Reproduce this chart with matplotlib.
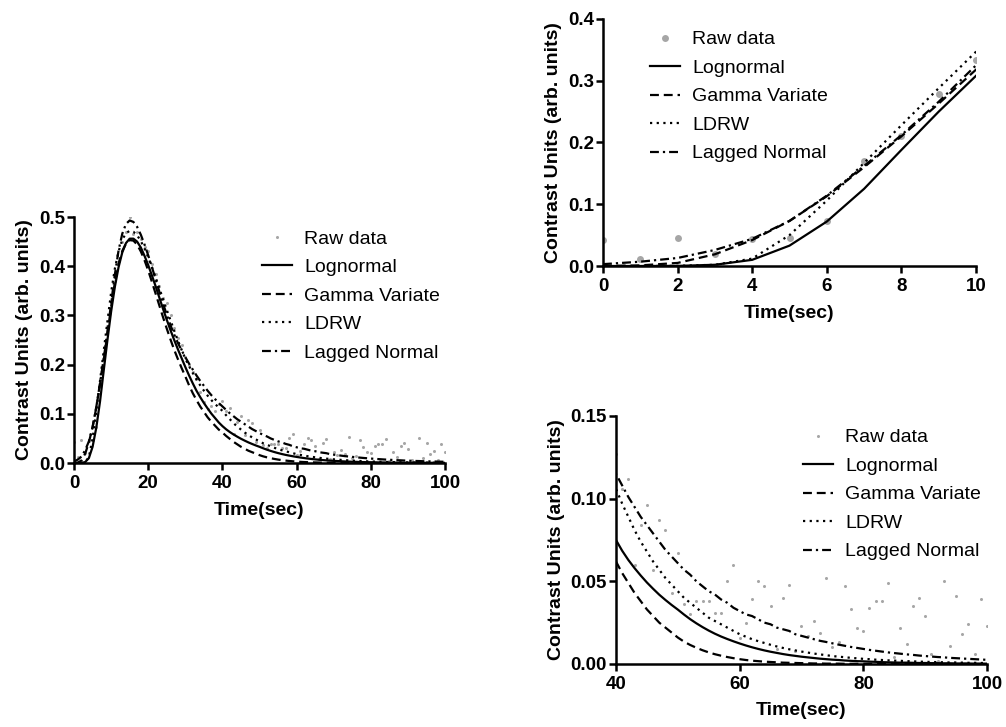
import matplotlib
matplotlib.use("Agg")
import matplotlib.pyplot as plt
from matplotlib.ticker import FormatStrFormatter

plt.rcParams['font.family'] = ['Liberation Sans', 'DejaVu Sans']

time = list(range(101))

raw = [0.042, 0.012, 0.046, 0.020, 0.044, 0.046, 0.073, 0.170, 0.210, 0.278, 0.333,
       0.370, 0.410, 0.450, 0.470, 0.500, 0.465, 0.470, 0.455, 0.440, 0.430,
       0.405, 0.385, 0.360, 0.335, 0.325, 0.300, 0.275, 0.255, 0.240, 0.215,
       0.200, 0.185, 0.170, 0.145, 0.125, 0.110, 0.115, 0.105, 0.120, 0.127,
       0.106, 0.112, 0.060, 0.084, 0.096, 0.057, 0.087, 0.081, 0.043, 0.067,
       0.036, 0.030, 0.038, 0.038, 0.038, 0.031, 0.031, 0.050, 0.060, 0.016,
       0.025, 0.039, 0.050, 0.047, 0.035, 0.009, 0.040, 0.048, 0.008, 0.023,
       0.017, 0.026, 0.019, 0.052, 0.010, 0.0135, 0.047, 0.033, 0.022, 0.020,
       0.034, 0.038, 0.038, 0.049, 0.004, 0.022, 0.012, 0.035, 0.040, 0.029,
       0.006, 0.002, 0.050, 0.011, 0.041, 0.018, 0.024, 0.006, 0.039, 0.023]

lognormal = [0, 0, 0.0002, 0.002, 0.010, 0.033, 0.072, 0.125, 0.188, 0.250, 0.308,
             0.358, 0.398, 0.428, 0.447, 0.456, 0.456, 0.450, 0.438, 0.421, 0.402,
             0.381, 0.359, 0.336, 0.313, 0.291, 0.270, 0.250, 0.231, 0.213, 0.195,
             0.178, 0.162, 0.147, 0.134, 0.122, 0.111, 0.1005, 0.0915, 0.0825, 0.075,
             0.0685, 0.0629, 0.058, 0.0535, 0.0493, 0.0455, 0.0419, 0.0387, 0.0357, 0.0329,
             0.0299, 0.0271, 0.0246, 0.0223, 0.0202, 0.0183, 0.0166, 0.0151, 0.0137, 0.0124,
             0.0112, 0.0101, 0.0091, 0.0082, 0.0074, 0.0067, 0.0060, 0.0054, 0.0049, 0.0044,
             0.0040, 0.0036, 0.0032, 0.0029, 0.0026, 0.0024, 0.0021, 0.0019, 0.0017, 0.0016,
             0.0014, 0.0013, 0.0011, 0.0010, 0.0009, 0.0008, 0.0008, 0.0007, 0.0006, 0.0006,
             0.0005, 0.0005, 0.0004, 0.0004, 0.0003, 0.0003, 0.0003, 0.0002, 0.0002, 0.0002]

gamma_variate = [0, 0.001, 0.005, 0.019, 0.042, 0.073, 0.113, 0.160, 0.210, 0.263, 0.318,
                 0.367, 0.405, 0.431, 0.446, 0.453, 0.452, 0.444, 0.430, 0.412, 0.391,
                 0.368, 0.344, 0.320, 0.296, 0.273, 0.251, 0.230, 0.211, 0.193, 0.176,
                 0.158, 0.142, 0.128, 0.115, 0.104, 0.093, 0.084, 0.076, 0.068, 0.062,
                 0.055, 0.049, 0.043, 0.038, 0.033, 0.029, 0.025, 0.022, 0.019, 0.016,
                 0.0135, 0.0115, 0.0098, 0.0083, 0.0070, 0.0059, 0.0050, 0.0042, 0.0035, 0.0029,
                 0.0024, 0.0020, 0.0017, 0.0014, 0.0012, 0.0010, 0.0008, 0.0007, 0.0006, 0.0005,
                 0.0004, 0.0003, 0.0003, 0.0002, 0.0002, 0.0002, 0.0001, 0.0001, 0.0001, 0.0001,
                 0.0001, 0.0001, 0.0001, 0, 0, 0, 0, 0, 0, 0,
                 0, 0, 0, 0, 0, 0, 0, 0, 0, 0]

ldrw = [0, 0, 0.0003, 0.002, 0.012, 0.050, 0.106, 0.167, 0.228, 0.288, 0.347,
        0.395, 0.430, 0.454, 0.467, 0.472, 0.470, 0.463, 0.451, 0.436, 0.418,
        0.398, 0.377, 0.355, 0.333, 0.311, 0.290, 0.269, 0.249, 0.230, 0.212,
        0.197, 0.183, 0.170, 0.158, 0.147, 0.137, 0.128, 0.120, 0.113, 0.106,
        0.097, 0.089, 0.081, 0.074, 0.068, 0.062, 0.057, 0.052, 0.048, 0.044,
        0.040, 0.037, 0.034, 0.031, 0.028, 0.026, 0.024, 0.022, 0.020, 0.018,
        0.0165, 0.015, 0.0138, 0.0127, 0.0116, 0.0106, 0.0097, 0.0089, 0.0082, 0.0075,
        0.0069, 0.0063, 0.0058, 0.0053, 0.0048, 0.0044, 0.0041, 0.0037, 0.0034, 0.0031,
        0.0029, 0.0026, 0.0024, 0.0022, 0.0020, 0.0019, 0.0017, 0.0016, 0.0014, 0.0013,
        0.0012, 0.0011, 0.0010, 0.0009, 0.0009, 0.0008, 0.0007, 0.0007, 0.0006, 0.0006]

lagged_normal = [0.003, 0.007, 0.013, 0.026, 0.044, 0.073, 0.114, 0.162, 0.212, 0.266, 0.325,
                 0.383, 0.432, 0.466, 0.486, 0.493, 0.490, 0.480, 0.464, 0.444, 0.422,
                 0.398, 0.373, 0.348, 0.324, 0.301, 0.280, 0.261, 0.244, 0.229, 0.215,
                 0.202, 0.190, 0.178, 0.167, 0.157, 0.147, 0.138, 0.130, 0.122, 0.115,
                 0.108, 0.101, 0.095, 0.089, 0.084, 0.079, 0.074, 0.069, 0.065, 0.061,
                 0.057, 0.054, 0.050, 0.047, 0.044, 0.042, 0.039, 0.037, 0.034, 0.032,
                 0.030, 0.029, 0.027, 0.025, 0.024, 0.022, 0.021, 0.020, 0.018, 0.017,
                 0.016, 0.015, 0.014, 0.0133, 0.0125, 0.0117, 0.0110, 0.0103, 0.0097, 0.0091,
                 0.0085, 0.0080, 0.0075, 0.0070, 0.0066, 0.0062, 0.0058, 0.0055, 0.0051, 0.0048,
                 0.0045, 0.0042, 0.0040, 0.0037, 0.0035, 0.0033, 0.0031, 0.0029, 0.0027, 0.0025]

labels = ["Raw data", "Lognormal", "Gamma Variate", "LDRW", "Lagged Normal"]


def panel(ax, xlim, ylim, xticks, yticks, yfmt, dot, leg_xy):
    ax.plot(time, raw, "o", color="#a6a6a6", markersize=dot, markeredgewidth=0,
            label=labels[0])
    ax.plot(time, lognormal, "-", color="k", lw=1.6, label=labels[1])
    ax.plot(time, gamma_variate, color="k", lw=1.6, dashes=(4, 2.2), label=labels[2])
    ax.plot(time, ldrw, color="k", lw=1.6, dashes=(1, 2), label=labels[3])
    ax.plot(time, lagged_normal, color="k", lw=1.6, dashes=(4, 1.8, 1, 1.8),
            label=labels[4])
    ax.set_xlim(*xlim)
    ax.set_ylim(*ylim)
    ax.set_xticks(xticks)
    ax.set_yticks(yticks)
    ax.yaxis.set_major_formatter(FormatStrFormatter(yfmt))
    for s in ["top", "right"]:
        ax.spines[s].set_visible(False)
    for s in ["left", "bottom"]:
        ax.spines[s].set_linewidth(1.8)
    ax.tick_params(direction="out", length=5, width=1.8, labelsize=13.5)
    ax.tick_params(axis="x", pad=3.5)
    ax.tick_params(axis="y", pad=1.5)
    for t in ax.get_xticklabels() + ax.get_yticklabels():
        t.set_fontweight("bold")
    ax.set_xlabel("Time(sec)", fontsize=14, fontweight="bold", labelpad=7)
    ax.set_ylabel("Contrast Units (arb. units)", fontsize=14, fontweight="bold",
                  labelpad=4)
    ax.legend(loc="upper left", bbox_to_anchor=leg_xy, frameon=False, fontsize=14,
              handlelength=1.55, handletextpad=0.62, labelspacing=0.56,
              borderaxespad=0, borderpad=0, markerscale=1)


fig = plt.figure(figsize=(10.06, 7.27), dpi=100)

ax1 = fig.add_axes([0.0736, 0.3631, 0.3688, 0.3384])
panel(ax1, (0, 100), (0, 0.5), [0, 20, 40, 60, 80, 100],
      [0, 0.1, 0.2, 0.3, 0.4, 0.5], "%.1f", 2.2, (0.507, 0.947))

ax2 = fig.add_axes([0.5994, 0.6341, 0.3708, 0.3398])
panel(ax2, (0, 10), (0, 0.4), [0, 2, 4, 6, 8, 10],
      [0, 0.1, 0.2, 0.3, 0.4], "%.1f", 5, (0.126, 0.952))

ax3 = fig.add_axes([0.6123, 0.0867, 0.3688, 0.3411])
panel(ax3, (40, 100), (0, 0.15), [40, 60, 80, 100],
      [0, 0.05, 0.10, 0.15], "%.2f", 2.2, (0.504, 0.948))

fig.savefig("out.png", dpi=100)
